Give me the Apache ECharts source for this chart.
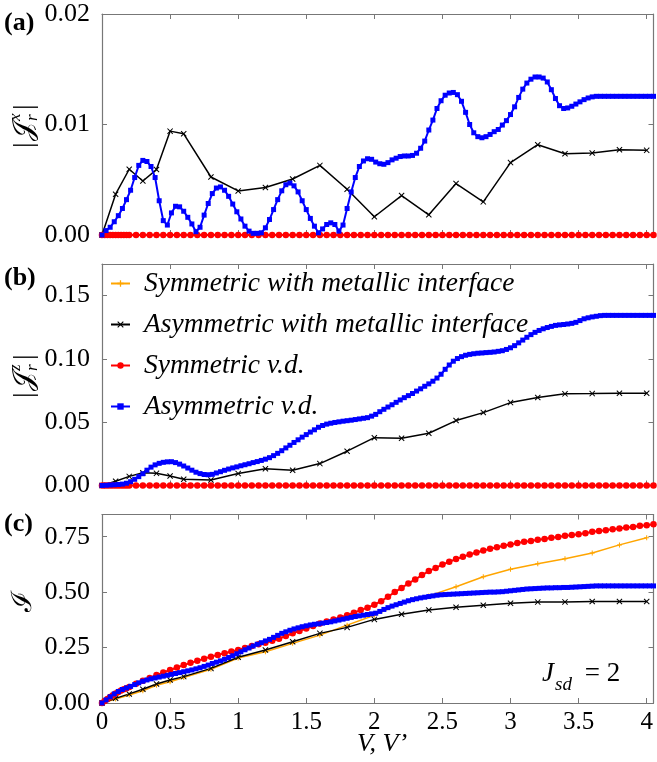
<!DOCTYPE html>
<html>
<head>
<meta charset="utf-8">
<script src="https://cdn.jsdelivr.net/npm/echarts@6/dist/echarts.min.js"></script>
<style>
  html, body { margin: 0; padding: 0; background: #fff; }
  #chart { width: 657px; height: 762px; }
</style>
</head>
<body>
<div id="chart"></div>
<script>
// Bias voltages of the metallic-interface calculations
const metallicV = [0, 0.1, 0.2, 0.3, 0.4, 0.5, 0.6, 0.8, 1.0, 1.2, 1.4, 1.6, 1.8, 2.0,
  2.2, 2.4, 2.6, 2.8, 3.0, 3.2, 3.4, 3.6, 3.8, 4.0];

// Bias voltages of the symmetric voltage-drop calculation
const symVdV = [0, 0.02, 0.04, 0.06, 0.08, 0.1, 0.12, 0.14, 0.16, 0.18, 0.2,
  0.25, 0.3, 0.35, 0.4, 0.45, 0.5, 0.55, 0.6, 0.65, 0.7, 0.75, 0.8, 0.85, 0.9, 0.95, 1.0,
  1.05, 1.1, 1.15, 1.2, 1.25, 1.3, 1.35, 1.4, 1.45, 1.5, 1.55, 1.6, 1.65, 1.7, 1.75, 1.8,
  1.85, 1.9, 1.95, 2.0, 2.05, 2.1, 2.15, 2.2, 2.25, 2.3, 2.35, 2.4, 2.45, 2.5, 2.55, 2.6,
  2.65, 2.7, 2.75, 2.8, 2.85, 2.9, 2.95, 3.0, 3.05, 3.1, 3.15, 3.2, 3.25, 3.3, 3.35, 3.4,
  3.45, 3.5, 3.55, 3.6, 3.65, 3.7, 3.75, 3.8, 3.85, 3.9, 3.95, 4.0, 4.05];

// Bias voltages of the asymmetric voltage-drop calculation
const asymVdV = [0, 0.03, 0.06, 0.09, 0.12, 0.15, 0.18, 0.21, 0.24, 0.27,
  0.3, 0.33, 0.36, 0.39, 0.42, 0.45, 0.48, 0.51, 0.54, 0.57,
  0.6, 0.63, 0.66, 0.69, 0.72, 0.75, 0.78, 0.81, 0.84, 0.87,
  0.9, 0.93, 0.96, 0.99, 1.02, 1.05, 1.08, 1.11, 1.14, 1.17,
  1.2, 1.23, 1.26, 1.29, 1.32, 1.35, 1.38, 1.41, 1.44, 1.47,
  1.5, 1.53, 1.56, 1.59, 1.62, 1.65, 1.68, 1.71, 1.74, 1.77,
  1.8, 1.83, 1.86, 1.89, 1.92, 1.95, 1.98, 2.01, 2.04, 2.07,
  2.1, 2.13, 2.16, 2.19, 2.22, 2.25, 2.28, 2.31, 2.34, 2.37,
  2.4, 2.43, 2.46, 2.49, 2.52, 2.55, 2.58, 2.61, 2.64, 2.67,
  2.7, 2.73, 2.76, 2.79, 2.82, 2.85, 2.88, 2.91, 2.94, 2.97,
  3.0, 3.03, 3.06, 3.09, 3.12, 3.15, 3.18, 3.21, 3.24, 3.27,
  3.3, 3.33, 3.36, 3.39, 3.42, 3.45, 3.48, 3.51, 3.54, 3.57,
  3.6, 3.63, 3.66, 3.69, 3.72, 3.75, 3.78, 3.81, 3.84, 3.87,
  3.9, 3.93, 3.96, 3.99, 4.02, 4.05];

// Panel (a): |J_r^x|
const asymMetalJx = [0, 0.00369, 0.00595, 0.00489, 0.00592, 0.0094, 0.00916, 0.00525, 0.00399,
  0.0043, 0.00507, 0.0063, 0.00414, 0.00165, 0.00357, 0.00183, 0.00466, 0.003, 0.00655,
  0.00817, 0.00736, 0.00742, 0.00772, 0.00766];
const symVdJx = [0, 0, 0, 0, 0, 0, 0, 0, 0, 0, 0, 0, 0, 0, 0, 0, 0, 0, 0, 0, 0, 0, 0, 0, 0, 0,
  0, 0, 0, 0, 0, 0, 0, 0, 0, 0, 0, 0, 0, 0, 0, 0, 0, 0, 0, 0, 0, 0, 0, 0, 0, 0, 0, 0, 0, 0,
  0, 0, 0, 0, 0, 0, 0, 0, 0, 0, 0, 0, 0, 0, 0, 0, 0, 0, 0, 0, 0, 0, 0, 0, 0, 0, 0, 0, 0, 0, 0, 0];
const asymVdJx = [0, 0.0004, 0.0007, 0.0012, 0.00175, 0.0024, 0.0032, 0.00405, 0.0052, 0.0063,
  0.00675, 0.00665, 0.0062, 0.0052, 0.0031, 0.0013, 0.0009, 0.002, 0.0026, 0.00255,
  0.00215, 0.0016, 0.001, 0.0003, 0.0007, 0.0018, 0.00285, 0.00375, 0.00425, 0.00435,
  0.00405, 0.0035, 0.0028, 0.0021, 0.00145, 0.0008, 0.00035, 0.00015, 0.00015, 0.0002,
  0.00065, 0.0014, 0.0023, 0.0032, 0.004, 0.00455, 0.0047, 0.00445, 0.0039, 0.0031,
  0.0023, 0.0015, 0.0008, 0.0002, 0.00055, 0.00095, 0.0011, 0.00095, 0.00035, 0.0009,
  0.0024, 0.0039, 0.0052, 0.0062, 0.0067, 0.0069, 0.00685, 0.0066, 0.00645, 0.0064,
  0.00655, 0.0068, 0.00695, 0.0071, 0.00715, 0.00715, 0.0072, 0.0074, 0.00785, 0.0085,
  0.0095, 0.0104, 0.01145, 0.01215, 0.01265, 0.01285, 0.0129, 0.0127, 0.0121, 0.0111,
  0.01, 0.00925, 0.0089, 0.0088, 0.0089, 0.0091, 0.00935, 0.00955, 0.00995, 0.01035,
  0.0109, 0.0116, 0.01245, 0.0132, 0.01375, 0.0141, 0.0143, 0.0143, 0.0142, 0.01385,
  0.01315, 0.01235, 0.0117, 0.01145, 0.0115, 0.01165, 0.01185, 0.01205, 0.01225, 0.0124,
  0.0125, 0.01255, 0.01255, 0.01255, 0.01255, 0.01255, 0.01255, 0.01255, 0.01255, 0.01255,
  0.01255, 0.01255, 0.01255, 0.01255, 0.01255, 0.01255];

// Panel (b): |J_r^z|
const asymMetalJz = [0, 0.0033, 0.0072, 0.0101, 0.0096, 0.0075, 0.0049, 0.0044, 0.0094,
  0.0132, 0.0121, 0.0173, 0.0271, 0.0378, 0.0373, 0.0413, 0.0513, 0.0576, 0.0655,
  0.0695, 0.0724, 0.0726, 0.0729, 0.0729];
const symVdJz = [0, 0, 0, 0, 0, 0, 0, 0, 0, 0, 0, 0, 0, 0, 0, 0, 0, 0, 0, 0, 0, 0, 0, 0, 0, 0,
  0, 0, 0, 0, 0, 0, 0, 0, 0, 0, 0, 0, 0, 0, 0, 0, 0, 0, 0, 0, 0, 0, 0, 0, 0, 0, 0, 0, 0, 0,
  0, 0, 0, 0, 0, 0, 0, 0, 0, 0, 0, 0, 0, 0, 0, 0, 0, 0, 0, 0, 0, 0, 0, 0, 0, 0, 0, 0, 0, 0, 0, 0];
const asymVdJz = [0, 0.0002, 0.0004, 0.0006, 0.0008, 0.0011, 0.0018, 0.003, 0.0049, 0.007,
  0.0093, 0.0121, 0.0145, 0.0163, 0.0175, 0.0183, 0.0187, 0.0188, 0.0181, 0.0169,
  0.0154, 0.0138, 0.0121, 0.0105, 0.0094, 0.0087, 0.0085, 0.0088, 0.0099, 0.0109,
  0.012, 0.013, 0.0139, 0.0147, 0.0156, 0.0164, 0.0172, 0.0181, 0.0189, 0.0198,
  0.0208, 0.022, 0.0236, 0.0254, 0.0275, 0.0297, 0.0318, 0.034, 0.0361, 0.0382,
  0.0402, 0.0422, 0.044, 0.046, 0.0474, 0.0485, 0.0492, 0.0498, 0.0503, 0.0508,
  0.0512, 0.0516, 0.0521, 0.0526, 0.0531, 0.0536, 0.0548, 0.0562, 0.0583, 0.0602,
  0.062, 0.0638, 0.0657, 0.0676, 0.0694, 0.071, 0.0727, 0.0746, 0.0764, 0.0784,
  0.0803, 0.0824, 0.0849, 0.0879, 0.0918, 0.0952, 0.0982, 0.1003, 0.1018, 0.1029,
  0.1036, 0.1041, 0.1045, 0.1047, 0.105, 0.1052, 0.1055, 0.106, 0.1065, 0.1075,
  0.1088, 0.1105, 0.1127, 0.1149, 0.1171, 0.1192, 0.121, 0.1225, 0.1238, 0.1248,
  0.1257, 0.1265, 0.1269, 0.1272, 0.1276, 0.1281, 0.1289, 0.1303, 0.1317, 0.1325,
  0.1332, 0.1337, 0.1342, 0.1344, 0.1344, 0.1344, 0.1344, 0.1344, 0.1344, 0.1344,
  0.1344, 0.1344, 0.1344, 0.1344, 0.1344, 0.1344];

// Panel (c): I
const symMetalI = [0, 0.018, 0.036, 0.055, 0.08, 0.096, 0.115, 0.152, 0.203, 0.231, 0.269,
  0.306, 0.351, 0.396, 0.449, 0.483, 0.524, 0.569, 0.603, 0.628, 0.65, 0.676, 0.713, 0.745];
const asymMetalI = [0, 0.021, 0.041, 0.062, 0.086, 0.104, 0.119, 0.156, 0.206, 0.239, 0.276,
  0.314, 0.341, 0.377, 0.4, 0.419, 0.432, 0.441, 0.45, 0.455, 0.456, 0.458, 0.458, 0.458];
const symVdI = [0, 0.009, 0.018, 0.027, 0.035, 0.043, 0.05, 0.056, 0.062, 0.067, 0.072,
  0.087, 0.1, 0.113, 0.126, 0.138, 0.149, 0.16, 0.171, 0.181, 0.19,
  0.2, 0.209, 0.217, 0.224, 0.232, 0.239, 0.248, 0.257, 0.265, 0.272,
  0.281, 0.29, 0.302, 0.314, 0.325, 0.336, 0.347, 0.359, 0.368, 0.377,
  0.386, 0.396, 0.407, 0.419, 0.43, 0.443, 0.459, 0.479, 0.5, 0.519,
  0.539, 0.557, 0.577, 0.595, 0.609, 0.624, 0.637, 0.649, 0.659, 0.67,
  0.679, 0.688, 0.695, 0.702, 0.709, 0.715, 0.721, 0.727, 0.731, 0.736,
  0.74, 0.745, 0.749, 0.754, 0.757, 0.761, 0.766, 0.772, 0.776, 0.779,
  0.784, 0.787, 0.791, 0.794, 0.799, 0.802, 0.806];
const asymVdI = [0, 0.014, 0.028, 0.041, 0.052, 0.061, 0.068, 0.075, 0.083, 0.091,
  0.098, 0.104, 0.109, 0.113, 0.117, 0.121, 0.125, 0.129, 0.133, 0.137,
  0.141, 0.145, 0.149, 0.154, 0.159, 0.165, 0.171, 0.178, 0.184, 0.19,
  0.197, 0.205, 0.213, 0.222, 0.231, 0.24, 0.248, 0.257, 0.265, 0.272,
  0.28, 0.287, 0.296, 0.305, 0.314, 0.321, 0.328, 0.334, 0.339, 0.344,
  0.348, 0.352, 0.355, 0.357, 0.36, 0.363, 0.366, 0.37, 0.374, 0.378,
  0.382, 0.386, 0.39, 0.393, 0.396, 0.399, 0.402, 0.405, 0.413, 0.422,
  0.43, 0.437, 0.443, 0.449, 0.455, 0.461, 0.466, 0.47, 0.474, 0.477,
  0.48, 0.483, 0.486, 0.488, 0.489, 0.49, 0.491, 0.492, 0.493, 0.494,
  0.495, 0.496, 0.497, 0.498, 0.499, 0.5, 0.5, 0.501, 0.502, 0.504,
  0.506, 0.508, 0.51, 0.512, 0.514, 0.515, 0.516, 0.517, 0.518, 0.519,
  0.519, 0.52, 0.52, 0.521, 0.521, 0.522, 0.523, 0.524, 0.525, 0.526,
  0.527, 0.528, 0.528, 0.528, 0.528, 0.528, 0.528, 0.528, 0.528, 0.528,
  0.528, 0.528, 0.528, 0.528, 0.528, 0.528];

// Axis ranges and tick steps per panel
const xRange = [0, 4.05];
const xStep = 0.5;
const yRanges = [[0, 0.02], [0, 0.175], [0, 0.85]];
const ySteps = [0.01, 0.05, 0.25];

const names = ['Symmetric with metallic interface', 'Asymmetric with metallic interface',
  'Symmetric v.d.', 'Asymmetric v.d.'];

const SERIF = "'Liberation Serif', 'Times New Roman', serif";
const FRAME = '#777';
const CROSS = 'path://M0,1.2L1.2,0L5,3.8L8.8,0L10,1.2L6.2,5L10,8.8L8.8,10L5,6.2L1.2,10L0,8.8L3.8,5Z';
const PLUS = 'path://M4,0L6,0L6,4L10,4L10,6L6,6L6,10L4,10L4,6L0,6L0,4L4,4Z';

const styles = [
  { color: '#ffa500', symbol: PLUS, symbolSize: 5, width: 1.5 },
  { color: '#000000', symbol: CROSS, symbolSize: 6, width: 1.5 },
  { color: '#ff0000', symbol: 'circle', symbolSize: 6.5, width: 2 },
  { color: '#0000ff', symbol: 'rect', symbolSize: 5, width: 2 }
];

function onStep(v, step) {
  const r = v / step;
  return Math.abs(r - Math.round(r)) < 1e-6;
}

const grids = [
  { left: 102, top: 14, width: 551.5, height: 221 },
  { left: 102, top: 264, width: 551.5, height: 221.5 },
  { left: 102, top: 514.5, width: 551.5, height: 188.5 }
];

const xAxis = [];
const yAxis = [];
grids.forEach((g, gi) => {
  const common = {
    type: 'value', gridIndex: gi, min: xRange[0], max: xRange[1], interval: xStep,
    axisLine: { show: true, onZero: false, lineStyle: { color: FRAME, width: 1.2 } },
    axisTick: { show: true, inside: true, length: 5, lineStyle: { color: FRAME, width: 1 } },
    splitLine: { show: false }
  };
  xAxis.push(Object.assign({}, common, {
    position: 'bottom',
    axisLabel: {
      show: gi === 2, margin: 7, color: '#000', fontFamily: SERIF, fontSize: 25,
      formatter: v => onStep(v, xStep) ? String(v) : ''
    }
  }));
  xAxis.push(Object.assign({}, common, { position: 'top', axisLabel: { show: false } }));

  const yc = {
    type: 'value', gridIndex: gi, min: yRanges[gi][0], max: yRanges[gi][1], interval: ySteps[gi],
    axisLine: { show: true, onZero: false, lineStyle: { color: FRAME, width: 1.2 } },
    axisTick: { show: true, inside: true, length: 5, lineStyle: { color: FRAME, width: 1 } },
    splitLine: { show: false }
  };
  yAxis.push(Object.assign({}, yc, {
    position: 'left',
    axisLabel: {
      show: true, margin: 12, color: '#000', fontFamily: SERIF, fontSize: 26,
      formatter: v => onStep(v, ySteps[gi]) ? v.toFixed(2) : ''
    }
  }));
  yAxis.push(Object.assign({}, yc, { position: 'right', axisLabel: { show: false } }));
});

function pairs(xs, ys) {
  return xs.map((x, i) => [x, ys[i]]);
}

function makeSeries(nameIdx, gi, xs, ys) {
  const s = styles[nameIdx];
  return {
    type: 'line', name: names[nameIdx], xAxisIndex: gi * 2, yAxisIndex: gi * 2,
    data: pairs(xs, ys), symbol: s.symbol, symbolSize: s.symbolSize, showSymbol: true,
    lineStyle: { color: s.color, width: s.width }, itemStyle: { color: s.color },
    emphasis: { disabled: true }, silent: true, clip: false
  };
}

const series = [
  // (a)
  makeSeries(1, 0, metallicV, asymMetalJx),
  makeSeries(2, 0, symVdV, symVdJx),
  makeSeries(3, 0, asymVdV, asymVdJx),
  // (b)
  makeSeries(1, 1, metallicV, asymMetalJz),
  makeSeries(2, 1, symVdV, symVdJz),
  makeSeries(3, 1, asymVdV, asymVdJz),
  // (c)
  makeSeries(0, 2, metallicV, symMetalI),
  makeSeries(1, 2, metallicV, asymMetalI),
  makeSeries(2, 2, symVdV, symVdI),
  makeSeries(3, 2, asymVdV, asymVdI)
];

// Rotated axis titles built from separate glyph pieces (script J with sub/superscripts)
function currentTitle(cx, cy, sup) {
  return {
    type: 'group', x: cx, y: cy, rotation: Math.PI / 2, silent: true,
    children: [
      { type: 'text', x: -23, y: 0, style: { text: '|', font: '28px ' + SERIF, fill: '#000', align: 'left', verticalAlign: 'middle' } },
      { type: 'text', x: -16, y: 0, style: { text: '\u{1D4A5}', font: '28px ' + SERIF, fill: '#000', align: 'left', verticalAlign: 'middle' } },
      { type: 'text', x: 4, y: -9, style: { text: sup, font: 'italic 17px ' + SERIF, fill: '#000', align: 'left', verticalAlign: 'middle' } },
      { type: 'text', x: 4, y: 8, style: { text: 'r', font: 'italic 17px ' + SERIF, fill: '#000', align: 'left', verticalAlign: 'middle' } },
      { type: 'text', x: 15, y: 0, style: { text: '|', font: '28px ' + SERIF, fill: '#000', align: 'left', verticalAlign: 'middle' } }
    ]
  };
}

const graphic = [
  { type: 'text', left: 4, top: 10, style: { text: '(a)', font: 'bold 26px ' + SERIF, fill: '#000' } },
  { type: 'text', left: 4, top: 265, style: { text: '(b)', font: 'bold 26px ' + SERIF, fill: '#000' } },
  { type: 'text', left: 4, top: 511, style: { text: '(c)', font: 'bold 26px ' + SERIF, fill: '#000' } },
  currentTitle(25, 125, 'x'),
  currentTitle(25, 375, 'z'),
  {
    type: 'text', x: 24, y: 601, rotation: Math.PI / 2, silent: true,
    style: { text: '\u2110', font: '28px ' + SERIF, fill: '#000', align: 'center', verticalAlign: 'middle' }
  },
  { type: 'text', x: 382, y: 744, style: { text: 'V, V\u2019', font: 'italic 26px ' + SERIF, fill: '#000', align: 'center', verticalAlign: 'middle' } },
  { type: 'text', x: 542, y: 674, style: { text: 'J', font: 'italic 27px ' + SERIF, fill: '#000', align: 'left', verticalAlign: 'middle' } },
  { type: 'text', x: 555, y: 685, style: { text: 'sd', font: 'italic 19px ' + SERIF, fill: '#000', align: 'left', verticalAlign: 'middle' } },
  { type: 'text', x: 578, y: 674, style: { text: ' = 2', font: '27px ' + SERIF, fill: '#000', align: 'left', verticalAlign: 'middle' } }
];

const chart = echarts.init(document.getElementById('chart'), null, { renderer: 'canvas' });
chart.setOption({
  animation: false,
  backgroundColor: '#ffffff',
  grid: grids.map(g => Object.assign({ show: false, containLabel: false }, g)),
  xAxis: xAxis,
  yAxis: yAxis,
  legend: {
    show: true, orient: 'vertical', left: 110, top: 270, padding: 0,
    itemWidth: 19, itemHeight: 8, itemGap: 14,
    data: names,
    textStyle: { fontFamily: SERIF, fontStyle: 'italic', fontSize: 27.5, color: '#000', lineHeight: 26, padding: [0, 0, 0, 9] },
    selectedMode: false
  },
  series: series,
  graphic: graphic
});
</script>
</body>
</html>
